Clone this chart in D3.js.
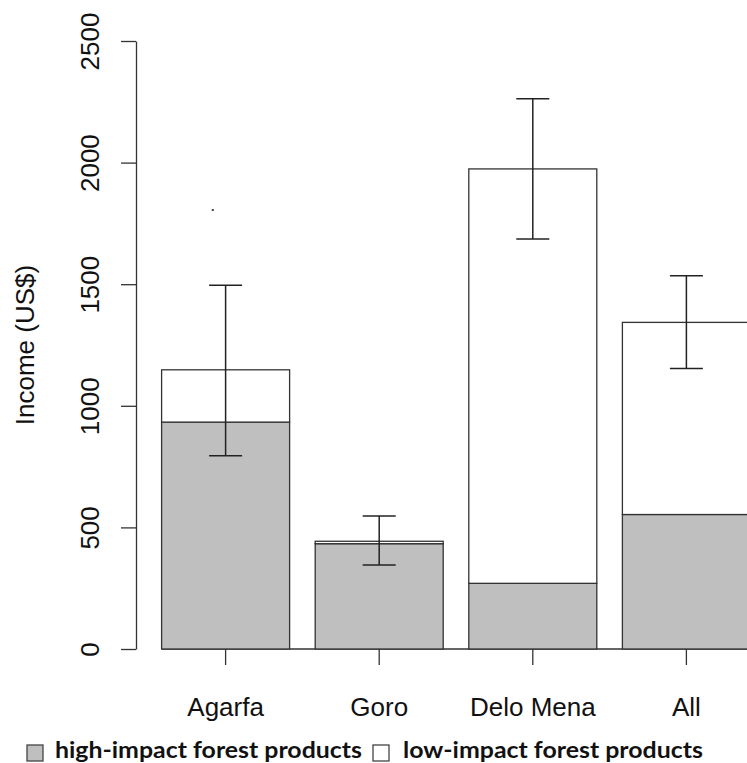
<!DOCTYPE html>
<html><head><meta charset="utf-8">
<script src="https://cdn.jsdelivr.net/npm/d3@7"></script>
<style>html,body{margin:0;padding:0;background:#fff;overflow:hidden}</style>
</head><body>
<svg id="c" width="747" height="763"></svg>
<script>
const categories = ["Agarfa", "Goro", "Delo Mena", "All"];
const highImpact = [933, 433, 270, 553];
const lowImpact = [215, 10, 1704, 790];
const errLow = [795, 345, 1686, 1153];
const errHigh = [1496, 547, 2263, 1535];
const strayPoint = [{cat: "Agarfa", value: 1805}];
const yTicks = [0, 500, 1000, 1500, 2000, 2500];
const legendLabels = ["high-impact forest products", "low-impact forest products"];
const seriesColors = ["#bebfbe", "#ffffff"];

const svg = d3.select("#c");
const x = d3.scaleBand().domain(categories).range([136, 776]).paddingInner(1/6).paddingOuter(1/6);
const y = d3.scaleLinear().domain([0, 2500]).range([649, 41]);
const stroke = "#333";

const rows = categories.map((c, i) => ({cat: c, high: highImpact[i], low: lowImpact[i], lo: errLow[i], hi: errHigh[i]}));
const stack = d3.stack().keys(["high", "low"])(rows);

// baseline
svg.append("line").attr("x1", x(categories[0])).attr("x2", 747)
  .attr("y1", y(0)).attr("y2", y(0)).attr("stroke", stroke).attr("stroke-width", 1.3);

stack.forEach((s, si) => {
  svg.append("g").selectAll("rect").data(s).join("rect")
    .attr("x", d => x(d.data.cat))
    .attr("width", x.bandwidth())
    .attr("y", d => y(d[1]))
    .attr("height", d => y(d[0]) - y(d[1]))
    .attr("fill", seriesColors[si])
    .attr("stroke", stroke).attr("stroke-width", 1.3);
});

// error bars
const cap = 16.5;
const eb = svg.append("g").attr("stroke", "#222").attr("stroke-width", 1.5);
rows.forEach(r => {
  const cx = x(r.cat) + x.bandwidth() / 2;
  eb.append("line").attr("x1", cx).attr("x2", cx).attr("y1", y(r.lo)).attr("y2", y(r.hi));
  eb.append("line").attr("x1", cx - cap).attr("x2", cx + cap).attr("y1", y(r.lo)).attr("y2", y(r.lo));
  eb.append("line").attr("x1", cx - cap).attr("x2", cx + cap).attr("y1", y(r.hi)).attr("y2", y(r.hi));
});

// stray point
svg.selectAll("rect.pt").data(strayPoint).join("rect").attr("class", "pt")
  .attr("x", d => x(d.cat) + x.bandwidth() * 0.4 - 1)
  .attr("y", d => y(d.value) - 1).attr("width", 2).attr("height", 2).attr("fill", "#444");

// y axis
const yAxis = d3.axisLeft(y).tickValues(yTicks).tickSize(15).tickSizeOuter(0).tickPadding(0).tickFormat(d3.format("d"));
const ga = svg.append("g").attr("transform", "translate(136,0)").call(yAxis);
ga.select(".domain").attr("stroke", stroke).attr("stroke-width", 1.3);
ga.selectAll(".tick line").attr("stroke", stroke).attr("stroke-width", 1.3);
ga.selectAll(".tick text")
  .attr("font-family", "'Liberation Sans', Arial, sans-serif").attr("font-size", 26).attr("fill", "#111")
  .attr("text-anchor", "middle").attr("dy", 0).attr("x", 0)
  .attr("transform", "translate(-37,0) rotate(-90)");

// x axis ticks + labels
const xAxis = d3.axisBottom(x).tickSize(16).tickPadding(0);
const gx = svg.append("g").attr("transform", `translate(0,${y(0)})`).call(xAxis);
gx.select(".domain").remove();
gx.selectAll(".tick line").attr("stroke", stroke).attr("stroke-width", 1.3);
gx.selectAll(".tick text")
  .attr("font-family", "'Liberation Sans', Arial, sans-serif").attr("font-size", 26).attr("fill", "#111")
  .attr("dy", 0).attr("y", 67);

// y title
svg.append("text").attr("transform", "translate(34,345) rotate(-90)")
  .attr("text-anchor", "middle").attr("font-family", "'Liberation Sans', Arial, sans-serif")
  .attr("font-size", 26).attr("fill", "#111").text("Income (US$)");

// legend
const legX = [27, 373];
const legTextX = [55, 403];
const legW = [307, 300];
legendLabels.forEach((lab, i) => {
  svg.append("rect").attr("x", legX[i]).attr("y", 745).attr("width", 16).attr("height", 16)
    .attr("fill", seriesColors[i]).attr("stroke", "#444").attr("stroke-width", 1.3);
  svg.append("text").attr("x", legTextX[i]).attr("y", 758)
    .attr("font-family", "Lato, 'Open Sans', sans-serif").attr("font-weight", "bold")
    .attr("font-size", 22).attr("fill", "#111")
    .attr("textLength", legW[i]).attr("lengthAdjust", "spacingAndGlyphs").text(lab);
});
</script>
</body></html>
